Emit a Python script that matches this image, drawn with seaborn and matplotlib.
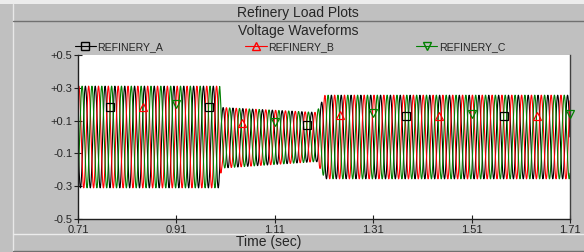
import numpy as np
import pandas as pd
import matplotlib
matplotlib.use("Agg")
import matplotlib.pyplot as plt
from matplotlib.lines import Line2D
from matplotlib.patches import Rectangle
import seaborn as sns

# ---- data ----
series = ["REFINERY_A", "REFINERY_B", "REFINERY_C"]
colors = ["#000000", "#ff0000", "#008000"]
markers = ["s", "^", "v"]
phase_deg = [0.0, -120.0, 120.0]
freq_hz = 50.0
# amplitude envelope breakpoints (time, peak value)
env_t = [0.71, 0.998, 1.002, 1.195, 1.212, 1.71]
env_amp = [0.31, 0.31, 0.185, 0.15, 0.255, 0.255]
env_off = [0.0, 0.0, -0.005, 0.0, 0.0, 0.0]
# marker positions (time, value) per series
mk_t = {
    "REFINERY_A": [0.776, 0.976, 1.176, 1.376, 1.576],
    "REFINERY_B": [0.843, 1.043, 1.243, 1.443, 1.643],
    "REFINERY_C": [0.910, 1.110, 1.310, 1.510, 1.710],
}
mk_y = {
    "REFINERY_A": [0.185, 0.185, 0.073, 0.13, 0.13],
    "REFINERY_B": [0.185, 0.087, 0.134, 0.128, 0.128],
    "REFINERY_C": [0.20, 0.09, 0.146, 0.14, 0.14],
}
xticks = [0.71, 0.91, 1.11, 1.31, 1.51, 1.71]
xtick_labels = ["0.71", "0.91", "1.11", "1.31", "1.51", "1.71"]
yticks = [0.5, 0.3, 0.1, -0.1, -0.3, -0.5]
ytick_labels = ["+0.5", "+0.3", "+0.1", "-0.1", "-0.3", "-0.5"]

# ---- build waveform table ----
t = np.arange(0.71, 1.71 + 1e-9, 0.0001)
amp = np.interp(t, env_t, env_amp)
off = np.interp(t, env_t, env_off)
frames = []
for name, ph in zip(series, phase_deg):
    v = off + amp * np.sin(2 * np.pi * freq_hz * t + np.deg2rad(ph))
    frames.append(pd.DataFrame({"t": t, "v": v, "series": name}))
df = pd.concat(frames, ignore_index=True)

W, H = 584, 252
sns.set_style("white")
plt.rcParams["font.family"] = ["Liberation Sans", "DejaVu Sans"]
fig = plt.figure(figsize=(W / 100, H / 100), dpi=100, facecolor="#c0c0c0")

def fx(x):
    return x / W

def fy(y):
    return 1 - y / H

# frame decorations
fig.patches.append(Rectangle((0, fy(4)), 1, 4 / H, transform=fig.transFigure,
                             facecolor="#ececec", edgecolor="none"))
fig.add_artist(Line2D([fx(12.5), fx(12.5)], [fy(4), fy(252)], color="#e8e8e8", lw=1))
fig.add_artist(Line2D([fx(13), 1], [fy(21), fy(21)], color="#707070", lw=1))
fig.add_artist(Line2D([fx(13), 1], [fy(234), fy(234)], color="#ececec", lw=1))
fig.add_artist(Line2D([fx(13), 1], [fy(250.5), fy(250.5)], color="#707070", lw=1))

fig.text(fx(298), fy(13), "Refinery Load Plots", ha="center", va="center", fontsize=10)
fig.text(fx(298), fy(31), "Voltage Waveforms", ha="center", va="center", fontsize=10)
fig.text(fx(269), fy(242), "Time (sec)", ha="center", va="center", fontsize=10)

ax = fig.add_axes([fx(78), fy(219), (570 - 78) / W, (219 - 55) / H])
ax.set_facecolor("white")
sns.lineplot(data=df, x="t", y="v", hue="series", palette=dict(zip(series, colors)),
             estimator=None, sort=False, lw=0.8, ax=ax, legend=False)
for name, c, m in zip(series, colors, markers):
    ax.plot(mk_t[name], mk_y[name], ls="none", marker=m, mfc="none", mec=c,
            ms=6, mew=0.9, clip_on=False, zorder=5)

ax.set_xlim(0.71, 1.71)
ax.set_ylim(-0.5, 0.5)
ax.set_xticks(xticks)
ax.set_xticklabels(xtick_labels)
ax.set_yticks(yticks)
ax.set_yticklabels(ytick_labels)
ax.set_xlabel("")
ax.set_ylabel("")
ax.tick_params(axis="both", direction="inout", length=6, width=0.8, color="#202020",
               labelsize=8, pad=1, left=True, bottom=True)
ax.tick_params(axis="x", pad=1)
for s in ["left", "bottom", "right"]:
    ax.spines[s].set_color("#202020")
    ax.spines[s].set_linewidth(1.0)
ax.spines["top"].set_visible(False)
ax.spines["right"].set_color("#404040")

handles = [Line2D([], [], color=c, marker=m, mfc="none", mec=c, ms=6, lw=0.8)
           for c, m in zip(colors, markers)]
fig.legend(handles, series, ncol=3, loc="center left",
           bbox_to_anchor=(fx(74.5), fy(47)), frameon=False, fontsize=7.6,
           handlelength=2.0, handletextpad=0.15, columnspacing=7.8,
           borderaxespad=0, borderpad=0)

fig.savefig("out.png", dpi=100, facecolor=fig.get_facecolor())
